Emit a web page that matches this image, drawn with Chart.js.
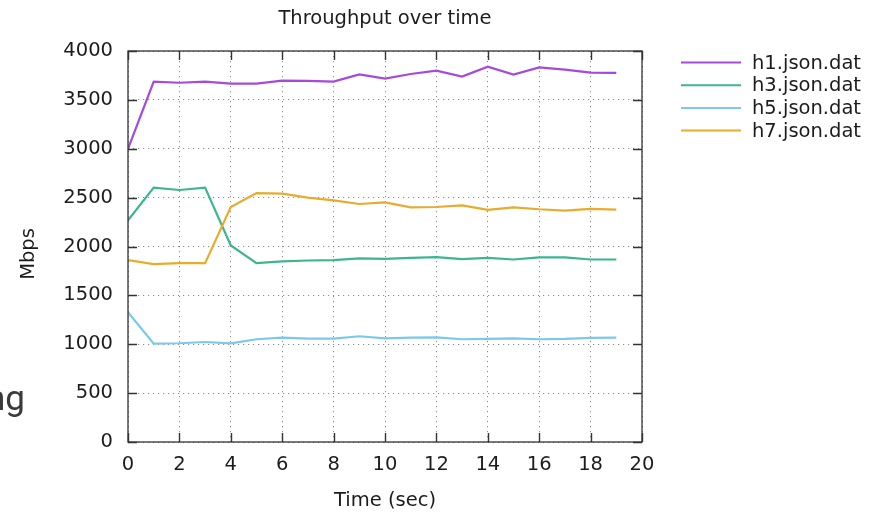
<!DOCTYPE html>
<html>
<head>
<meta charset="utf-8">
<script src="https://cdn.jsdelivr.net/npm/chart.js@4/dist/chart.umd.min.js"></script>
<style>
  html, body { margin: 0; padding: 0; background: #ffffff; }
  #wrap { position: relative; width: 878px; height: 512px; overflow: hidden; }
  #c { position: absolute; left: 0; top: 0; }
  #frag { position: absolute; left: -14px; top: 381px; font-family: Roboto, sans-serif; font-size: 35px; line-height: 36px; color: #3a3a3a; white-space: nowrap; }
</style>
</head>
<body>
<div id="wrap">
  <canvas id="c" width="878" height="512"></canvas>
  <div id="frag">ng</div>
</div>
<script>
// ---- data ----
const chartTitle = "Throughput over time";
const xTitle = "Time (sec)";
const yTitle = "Mbps";
const seconds = [0, 1, 2, 3, 4, 5, 6, 7, 8, 9, 10, 11, 12, 13, 14, 15, 16, 17, 18, 19];
const seriesNames = ["h1.json.dat", "h3.json.dat", "h5.json.dat", "h7.json.dat"];
const h1 = [3000, 3687, 3675, 3687, 3667, 3667, 3697, 3694, 3687, 3761, 3717, 3765, 3799, 3738, 3840, 3758, 3833, 3809, 3779, 3776];
const h3 = [2268, 2602, 2578, 2602, 2010, 1830, 1847, 1857, 1860, 1878, 1874, 1884, 1891, 1870, 1884, 1867, 1888, 1888, 1867, 1867];
const h5 = [1327, 1006, 1010, 1023, 1010, 1051, 1068, 1058, 1058, 1082, 1061, 1068, 1071, 1051, 1054, 1061, 1051, 1054, 1065, 1068];
const h7 = [1860, 1819, 1830, 1830, 2404, 2547, 2541, 2500, 2472, 2435, 2452, 2401, 2404, 2421, 2374, 2401, 2381, 2367, 2384, 2377];
const xTicks = [0, 2, 4, 6, 8, 10, 12, 14, 16, 18, 20];
const yTicks = [0, 500, 1000, 1500, 2000, 2500, 3000, 3500, 4000];

const colors = ["#a64ad9", "#3db68e", "#7cc8ea", "#e8ab2e"];
const FONT = "'DejaVu Sans', sans-serif";
const FS = 19.5;
const TXT = "#1c1c1c";

const seriesValues = [h1, h3, h5, h7];
const datasets = seriesValues.map((vals, i) => ({
  label: seriesNames[i],
  data: vals.map((v, k) => ({ x: seconds[k], y: v })),
  borderColor: colors[i],
  backgroundColor: colors[i],
  borderWidth: 2.2,
  pointRadius: 0,
  tension: 0,
  fill: false,
  order: 4 - i
}));

const decor = {
  id: 'decor',
  afterDraw(chart) {
    const ctx = chart.ctx;
    const a = chart.chartArea;
    const xs = chart.scales.x, ys = chart.scales.y;
    ctx.save();
    ctx.strokeStyle = "#333";
    ctx.lineWidth = 1.3;
    ctx.setLineDash([]);
    ctx.strokeRect(a.left, a.top, a.right - a.left, a.bottom - a.top);
    const TL = 9;
    ctx.lineWidth = 1.4;
    ctx.beginPath();
    xTicks.forEach(v => {
      const p = Math.round(xs.getPixelForValue(v)) + 0.5;
      ctx.moveTo(p, a.bottom); ctx.lineTo(p, a.bottom - TL);
      ctx.moveTo(p, a.top); ctx.lineTo(p, a.top + TL);
    });
    yTicks.forEach(v => {
      const p = Math.round(ys.getPixelForValue(v)) + 0.5;
      ctx.moveTo(a.left, p); ctx.lineTo(a.left + TL, p);
      ctx.moveTo(a.right, p); ctx.lineTo(a.right - TL, p);
    });
    ctx.stroke();
    ctx.fillStyle = TXT;
    ctx.font = FS + "px " + FONT;
    ctx.textAlign = "center";
    ctx.textBaseline = "alphabetic";
    const cx = (a.left + a.right) / 2;
    ctx.fillText(chartTitle, cx, 23.5);
    ctx.fillText(xTitle, cx, 505.5);
    ctx.save();
    ctx.translate(34, 254);
    ctx.rotate(-Math.PI / 2);
    ctx.fillText(yTitle, 0, 0);
    ctx.restore();
    ctx.textAlign = "left";
    ctx.textBaseline = "middle";
    chart.data.datasets.forEach((ds, i) => {
      const y = 62.5 + i * 22.7;
      ctx.strokeStyle = ds.borderColor;
      ctx.lineWidth = 2;
      ctx.beginPath();
      ctx.moveTo(681, y); ctx.lineTo(741, y);
      ctx.stroke();
      ctx.fillStyle = TXT;
      ctx.fillText(ds.label, 752, y + 1);
    });
    ctx.restore();
  }
};

new Chart(document.getElementById('c'), {
  type: 'line',
  data: { datasets },
  options: {
    responsive: false,
    animation: false,
    devicePixelRatio: 1,
    layout: { padding: { left: 0, right: 236, top: 51, bottom: 0 } },
    plugins: { legend: { display: false }, title: { display: false }, tooltip: { enabled: false } },
    scales: {
      x: {
        type: 'linear', min: 0, max: 20,
        afterFit: s => { s.height = 70; },
        afterBuildTicks: s => { s.ticks = xTicks.map(v => ({ value: v })); },
        ticks: { color: TXT, font: { family: FONT, size: FS }, padding: 11, maxRotation: 0, autoSkip: false, callback: v => String(v) },
        grid: { color: "rgba(90,90,90,0.7)", lineWidth: 1, drawTicks: false },
        border: { display: false, dash: [1.2, 3.8] }
      },
      y: {
        type: 'linear', min: 0, max: 4000,
        afterFit: s => { s.width = 128; },
        afterBuildTicks: s => { s.ticks = yTicks.map(v => ({ value: v })); },
        ticks: { color: TXT, font: { family: FONT, size: FS }, padding: 15, autoSkip: false, callback: v => String(v) },
        grid: { color: "rgba(90,90,90,0.7)", lineWidth: 1, drawTicks: false },
        border: { display: false, dash: [1.2, 3.8] }
      }
    }
  },
  plugins: [decor]
});
</script>
</body>
</html>
